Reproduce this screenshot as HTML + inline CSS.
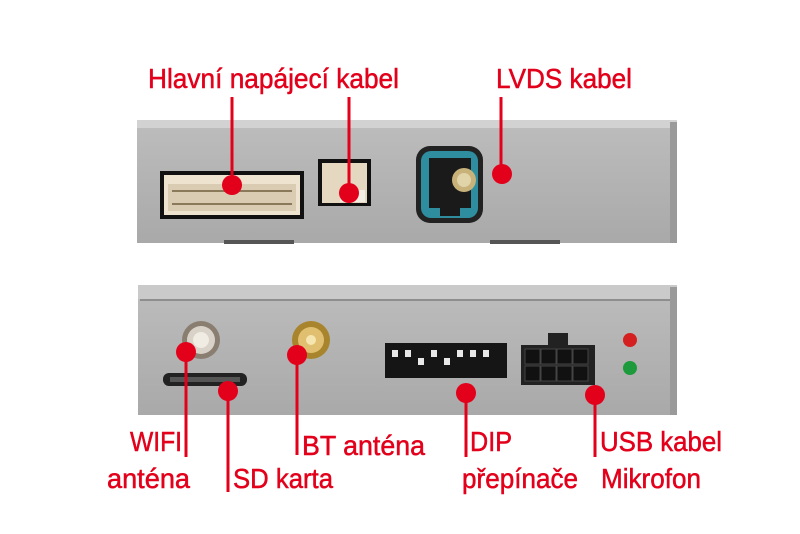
<!DOCTYPE html>
<html><head><meta charset="utf-8"><style>
html,body{margin:0;padding:0;background:#fff;}
svg{display:block}
text{font-family:"Liberation Sans Narrow","Liberation Sans",sans-serif;fill:#e3001b;font-size:28px;stroke:#e3001b;stroke-width:0.5px;}
</style></head><body>
<svg width="800" height="534" viewBox="0 0 800 534">
<defs>
<linearGradient id="box" x1="0" y1="0" x2="0" y2="1"><stop offset="0" stop-color="#bdbdbd"/><stop offset="1" stop-color="#a9a9a9"/></linearGradient>
</defs>
<!-- top box -->
<rect x="137" y="120" width="540" height="123" fill="url(#box)"/>
<rect x="137" y="120" width="540" height="8" fill="#d2d2d2"/>
<rect x="670" y="122" width="7" height="121" fill="#9a9a9a"/>
<rect x="224" y="240" width="70" height="4" fill="#555"/>
<rect x="490" y="240" width="70" height="4" fill="#555"/>
<!-- connector 1 -->
<rect x="160" y="171" width="144" height="48" fill="#111"/>
<rect x="164" y="175" width="136" height="40" fill="#ede3cf"/>
<rect x="168" y="184" width="128" height="27" fill="#d9ccb2"/>
<g fill="#8a7a5a">
<rect x="172" y="190" width="120" height="2"/>
<rect x="172" y="203" width="120" height="2"/>
</g>
<!-- connector 2 -->
<rect x="318" y="159" width="53" height="47" fill="#111"/>
<rect x="322" y="163" width="45" height="40" fill="#e4d8c0"/>
<rect x="340" y="190" width="25" height="12" fill="#f3eee4"/>
<!-- LVDS -->
<rect x="416" y="146" width="67" height="77" rx="14" fill="#222"/>
<rect x="421" y="151" width="57" height="67" rx="10" fill="#2e8ea0"/>
<rect x="429" y="158" width="42" height="50" fill="#1a1a1a"/>
<rect x="440" y="208" width="20" height="8" fill="#1a1a1a"/>
<circle cx="464" cy="180" r="12" fill="#c8b27a"/>
<circle cx="464" cy="180" r="7" fill="#e0d4a8"/>
<!-- bottom box -->
<rect x="138" y="285" width="539" height="130" fill="url(#box)"/>
<rect x="138" y="285" width="539" height="14" fill="#cacaca"/>
<rect x="140" y="299" width="535" height="2" fill="#8e8e8e"/>
<rect x="670" y="287" width="7" height="128" fill="#9a9a9a"/>
<!-- wifi connector -->
<circle cx="201" cy="340" r="19" fill="#8a7e70"/>
<circle cx="201" cy="340" r="14" fill="#d8d2c8"/>
<circle cx="201" cy="340" r="8" fill="#f0ece4"/>
<!-- SD slot -->
<rect x="163" y="373" width="84" height="13" rx="6" fill="#222"/>
<rect x="170" y="377" width="70" height="5" fill="#555"/>
<!-- BT -->
<circle cx="311" cy="340" r="19" fill="#a8842c"/>
<circle cx="311" cy="340" r="13" fill="#e0c070"/>
<circle cx="311" cy="340" r="5" fill="#f5e6b0"/>
<!-- DIP -->
<rect x="385" y="343" width="122" height="35" fill="#151515"/>
<g fill="#e8e8e8">
<rect x="392" y="350" width="6" height="7"/><rect x="405" y="350" width="6" height="7"/><rect x="418" y="358" width="6" height="7"/><rect x="431" y="350" width="6" height="7"/><rect x="444" y="358" width="6" height="7"/><rect x="457" y="350" width="6" height="7"/><rect x="470" y="350" width="6" height="7"/><rect x="483" y="350" width="6" height="7"/>
</g>
<!-- USB/mic connector -->
<rect x="521" y="345" width="74" height="40" fill="#222"/>
<rect x="548" y="333" width="20" height="14" fill="#222"/>
<g fill="#111" stroke="#444" stroke-width="1">
<rect x="525" y="349" width="15" height="15"/><rect x="541" y="349" width="15" height="15"/><rect x="557" y="349" width="15" height="15"/><rect x="573" y="349" width="15" height="15"/>
<rect x="525" y="366" width="15" height="15"/><rect x="541" y="366" width="15" height="15"/><rect x="557" y="366" width="15" height="15"/><rect x="573" y="366" width="15" height="15"/>
</g>
<!-- LEDs -->
<circle cx="630" cy="340" r="7" fill="#d42020"/>
<circle cx="630" cy="368" r="7" fill="#1c9a3c"/>
<!-- red leader lines -->
<g stroke="#e3001b" stroke-width="3">
<line x1="232" y1="97" x2="232" y2="185"/>
<line x1="349" y1="97" x2="349" y2="193"/>
<line x1="501" y1="97" x2="501" y2="174"/>
<line x1="186" y1="352" x2="186" y2="457"/>
<line x1="228" y1="391" x2="228" y2="492"/>
<line x1="297" y1="355" x2="297" y2="455"/>
<line x1="466" y1="393" x2="466" y2="457"/>
<line x1="595" y1="395" x2="595" y2="457"/>
</g>
<g fill="#e3001b">
<circle cx="232" cy="185" r="10"/>
<circle cx="349" cy="193" r="10"/>
<circle cx="502" cy="174" r="10"/>
<circle cx="186" cy="352" r="10"/>
<circle cx="228" cy="391" r="10"/>
<circle cx="297" cy="355" r="10"/>
<circle cx="466" cy="393" r="10"/>
<circle cx="595" cy="395" r="10"/>
</g>
<!-- labels -->
<text x="148" y="88" textLength="251" lengthAdjust="spacingAndGlyphs">Hlavní napájecí kabel</text>
<text x="496" y="88" textLength="136" lengthAdjust="spacingAndGlyphs">LVDS kabel</text>
<text x="130" y="451" textLength="52" lengthAdjust="spacingAndGlyphs">WIFI</text>
<text x="107" y="488" textLength="83" lengthAdjust="spacingAndGlyphs">anténa</text>
<text x="233" y="488" textLength="100" lengthAdjust="spacingAndGlyphs">SD karta</text>
<text x="302" y="455" textLength="123" lengthAdjust="spacingAndGlyphs">BT anténa</text>
<text x="470" y="451" textLength="42" lengthAdjust="spacingAndGlyphs">DIP</text>
<text x="462" y="488" textLength="116" lengthAdjust="spacingAndGlyphs">přepínače</text>
<text x="600" y="451" textLength="122" lengthAdjust="spacingAndGlyphs">USB kabel</text>
<text x="601" y="488" textLength="100" lengthAdjust="spacingAndGlyphs">Mikrofon</text>
</svg>
</body></html>
